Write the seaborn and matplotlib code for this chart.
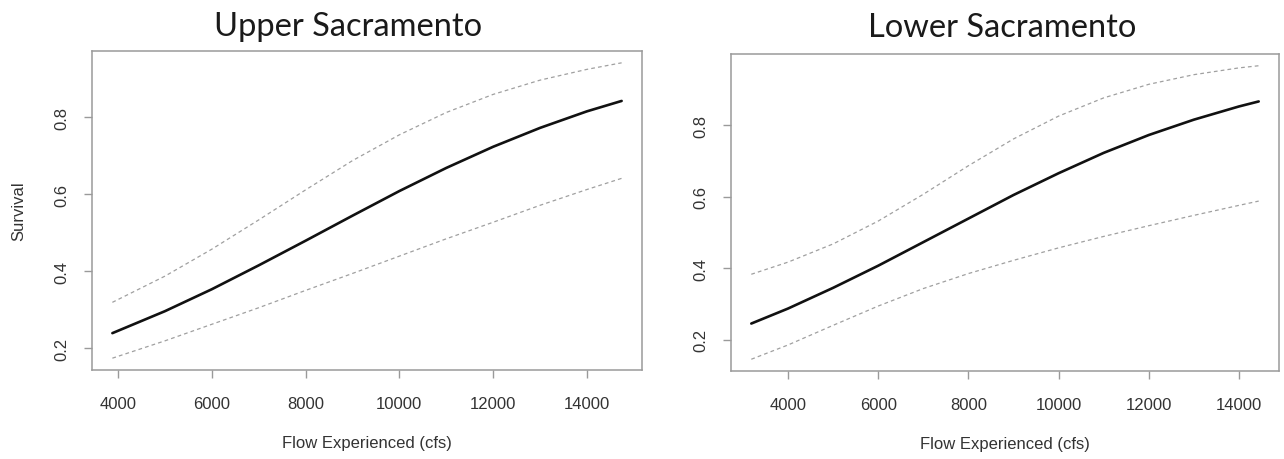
import matplotlib
matplotlib.use("Agg")
import matplotlib.pyplot as plt
import seaborn as sns
import pandas as pd

# ---------------- data ----------------
upper_flow = [3880, 5000, 6000, 7000, 8000, 9000, 10000, 11000, 12000, 13000, 14000, 14740]
upper_fit = [0.239, 0.296, 0.353, 0.415, 0.479, 0.544, 0.608, 0.668, 0.723, 0.772, 0.815, 0.842]
upper_hi = [0.319, 0.387, 0.457, 0.533, 0.611, 0.687, 0.754, 0.812, 0.859, 0.896, 0.924, 0.941]
upper_lo = [0.174, 0.219, 0.262, 0.305, 0.350, 0.394, 0.439, 0.484, 0.527, 0.571, 0.612, 0.641]

lower_flow = [3186, 4000, 5000, 6000, 7000, 8000, 9000, 10000, 11000, 12000, 13000, 14000, 14437]
lower_fit = [0.245, 0.287, 0.345, 0.407, 0.473, 0.539, 0.605, 0.666, 0.723, 0.773, 0.816, 0.853, 0.867]
lower_hi = [0.383, 0.417, 0.468, 0.532, 0.607, 0.687, 0.762, 0.826, 0.877, 0.915, 0.942, 0.961, 0.967]
lower_lo = [0.145, 0.185, 0.240, 0.294, 0.343, 0.385, 0.422, 0.457, 0.489, 0.519, 0.548, 0.576, 0.588]

titles = ["Upper Sacramento", "Lower Sacramento"]
x_ticks = [4000, 6000, 8000, 10000, 12000, 14000]
y_ticks = [0.2, 0.4, 0.6, 0.8]
x_label = "Flow Experienced (cfs)"
y_label = "Survival"

# ---------------- style ----------------
sns.set_style("white")
plt.rcParams["font.family"] = ["Liberation Sans", "DejaVu Sans"]

W, H = 1284, 460
fig = plt.figure(figsize=(W / 100, H / 100), dpi=100)

def box(l, t, r, b):
    return [l / W, 1 - b / H, (r - l) / W, (b - t) / H]

ax1 = fig.add_axes(box(92, 52, 642, 371))
ax2 = fig.add_axes(box(731, 55, 1279, 372))

panels = [
    (ax1, upper_flow, upper_fit, upper_hi, upper_lo),
    (ax2, lower_flow, lower_fit, lower_hi, lower_lo),
]

spine_col = "#9a9a9a"
text_col = "#333333"

for ax, fx, fit, hi, lo in panels:
    df = pd.DataFrame({"flow": fx, "fit": fit, "hi": hi, "lo": lo})
    sns.lineplot(data=df, x="flow", y="hi", ax=ax, color="#a0a0a0", lw=0.9,
                 linestyle=(0, (3, 2.5)))
    sns.lineplot(data=df, x="flow", y="lo", ax=ax, color="#a0a0a0", lw=0.9,
                 linestyle=(0, (3, 2.5)))
    sns.lineplot(data=df, x="flow", y="fit", ax=ax, color="#111111", lw=1.9)

    # R-style 4% padding
    xr = max(fx) - min(fx)
    ax.set_xlim(min(fx) - 0.04 * xr, max(fx) + 0.04 * xr)
    ymin, ymax = min(lo), max(hi)
    yr = ymax - ymin
    ax.set_ylim(ymin - 0.04 * yr, ymax + 0.04 * yr)

    ax.set_xticks(x_ticks)
    ax.set_xticklabels([str(v) for v in x_ticks])
    ax.set_yticks(y_ticks)
    ax.set_yticklabels([f"{v:.1f}" for v in y_ticks], rotation=90, va="center")
    ax.tick_params(axis="both", direction="out", length=6, width=1.0,
                   color=spine_col, labelcolor=text_col, labelsize=12,
                   bottom=True, left=True)
    ax.tick_params(axis="x", pad=13)
    ax.tick_params(axis="y", pad=10)
    for s in ax.spines.values():
        s.set_color(spine_col)
        s.set_linewidth(1.1)
        s.set_visible(True)
    ax.set_xlabel(x_label, fontsize=12, color=text_col)
    ax.set_ylabel("")
    ax.xaxis.set_label_coords(0.5, -0.204)

ax1.set_ylabel(y_label, fontsize=12, color=text_col)
ax1.yaxis.set_label_coords(-0.12, 0.5)

fig.text(348 / W, 1 - 36 / H, titles[0], ha="center", va="baseline",
         fontsize=23.5, color="#1a1a1a", family=["Lato", "DejaVu Sans"])
fig.text(1002 / W, 1 - 37 / H, titles[1], ha="center", va="baseline",
         fontsize=23.5, color="#1a1a1a", family=["Lato", "DejaVu Sans"])

fig.savefig("out.png", dpi=100, facecolor="white")
